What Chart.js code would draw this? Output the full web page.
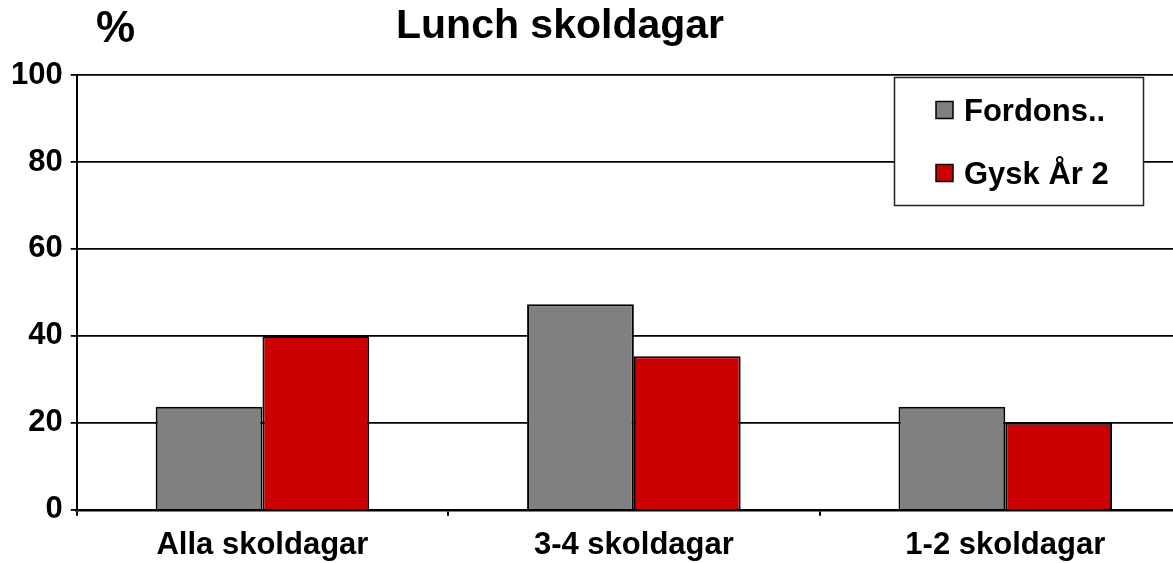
<!DOCTYPE html>
<html>
<head>
<meta charset="utf-8">
<script src="https://cdn.jsdelivr.net/npm/chart.js@4/dist/chart.umd.min.js"></script>
<style>
  html, body { margin: 0; padding: 0; background: #fff; overflow: hidden; }
  #wrap { width: 1173px; height: 563px; overflow: hidden; }
  canvas { display: block; }
</style>
</head>
<body>
<div id="wrap"><canvas id="c" width="1195" height="575"></canvas></div>
<script>
const categories = ['Alla skoldagar', '3-4 skoldagar', '1-2 skoldagar'];
const seriesNames = ['Fordons..', 'Gysk År 2'];
const fordonsValues = [23.7, 47.3, 23.7];
const gyskValues = [40, 35.3, 20];
const yTicks = [0, 20, 40, 60, 80, 100];
const chartTitle = 'Lunch skoldagar';
const unitLabel = '%';

const FONT = "'Liberation Sans', Arial, sans-serif";

const decorPlugin = {
  id: 'decor',
  afterDraw(chart) {
    const ctx = chart.ctx;
    ctx.save();
    ctx.fillStyle = '#000';
    ctx.textAlign = 'left';
    ctx.textBaseline = 'alphabetic';
    ctx.font = 'bold 44px ' + FONT;
    ctx.fillText(unitLabel, 96, 42);
    ctx.font = 'bold 41px ' + FONT;
    ctx.fillText(chartTitle, 396, 38);

    ctx.fillStyle = '#fff';
    ctx.fillRect(894, 77, 249, 128);
    ctx.strokeStyle = '#222';
    ctx.lineWidth = 1.5;
    ctx.strokeRect(894.5, 77.5, 249, 128);
    const rowY = [110, 173];
    chart.data.datasets.forEach((ds, i) => {
      const cy = rowY[i];
      ctx.fillStyle = ds.backgroundColor;
      ctx.fillRect(936, cy - 8.5, 17, 17);
      ctx.strokeStyle = '#000';
      ctx.lineWidth = 1.5;
      ctx.strokeRect(936, cy - 8.5, 17, 17);
      ctx.fillStyle = '#000';
      ctx.font = 'bold 31px ' + FONT;
      ctx.textBaseline = 'alphabetic';
      ctx.fillText(ds.label, 964, cy + 11);
    });
    ctx.restore();
  }
};

new Chart(document.getElementById('c'), {
  type: 'bar',
  data: {
    labels: categories,
    datasets: [
      {
        label: seriesNames[0],
        data: fordonsValues,
        backgroundColor: '#808080',
        borderColor: '#000',
        borderWidth: 2,
        borderSkipped: 'bottom'
      },
      {
        label: seriesNames[1],
        data: gyskValues,
        backgroundColor: '#CC0000',
        borderColor: '#000',
        borderWidth: 2,
        borderSkipped: 'bottom'
      }
    ]
  },
  options: {
    responsive: false,
    animation: false,
    devicePixelRatio: 1,
    layout: { padding: { top: 75, left: 3, right: 4, bottom: 0 } },
    plugins: {
      legend: { display: false },
      title: { display: false },
      tooltip: { enabled: false }
    },
    datasets: {
      bar: { barPercentage: 1.0, categoryPercentage: 0.575 }
    },
    scales: {
      x: {
        grid: {
          display: true,
          drawOnChartArea: false,
          drawTicks: true,
          tickLength: 6,
          color: '#000',
          lineWidth: 2,
          offset: true
        },
        border: { display: true, color: '#000', width: 2.5 },
        ticks: {
          color: '#000',
          font: { family: FONT, size: 31, weight: 'bold' },
          padding: 11,
          maxRotation: 0
        }
      },
      y: {
        min: 0,
        max: 100,
        afterBuildTicks(scale) { scale.ticks = yTicks.map(v => ({ value: v })); },
        grid: {
          color: '#000',
          lineWidth: 1.8,
          drawTicks: true,
          tickLength: 6
        },
        border: { display: true, color: '#000', width: 2 },
        ticks: {
          color: '#000',
          font: { family: FONT, size: 31, weight: 'bold' },
          padding: 8
        }
      }
    }
  },
  plugins: [decorPlugin]
});
</script>
</body>
</html>
